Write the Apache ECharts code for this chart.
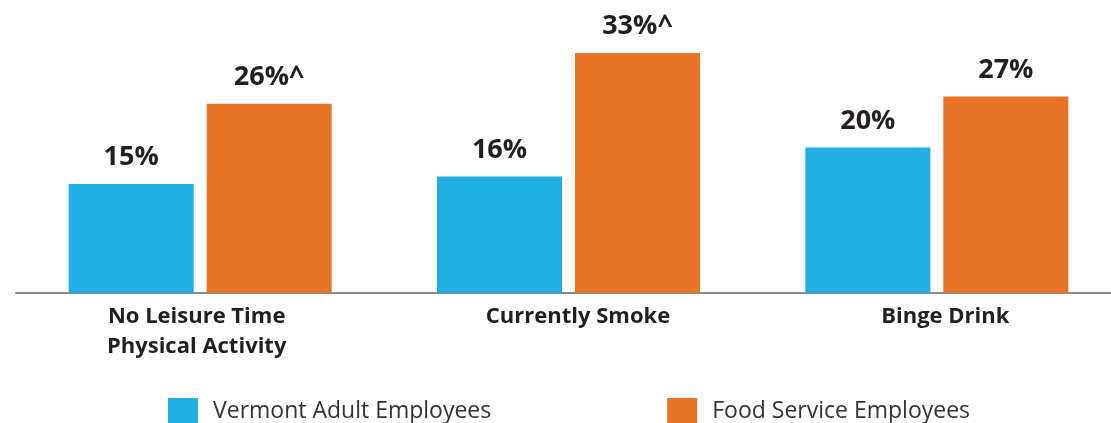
<!DOCTYPE html>
<html>
<head>
<meta charset="utf-8">
<script src="https://cdn.jsdelivr.net/npm/echarts@6/dist/echarts.min.js"></script>
<style>html,body{margin:0;padding:0;background:#fff;overflow:hidden}#c{width:1121px;height:423px}</style>
</head>
<body>
<div id="c"></div>
<script>
const categories = ['No Leisure Time\nPhysical Activity', 'Currently Smoke', 'Binge Drink'];
const seriesNames = ['Vermont Adult Employees', 'Food Service Employees'];
const vermontValues = [15, 16, 20];
const foodValues = [26, 33, 27];
const foodMarkers = ['^', '^', ''];

const labelPads = [[0, 7, 0, 0], [0, 0, 0, 19], [0, 0, 0, 17]];
const rich = {};
labelPads.forEach((p, i) => {
  rich['a' + i] = {fontFamily: 'Open Sans', fontWeight: 'bold', fontSize: 22, color: '#231f20', lineHeight: 30, padding: p};
});

const chart = echarts.init(document.getElementById('c'), null, {renderer: 'canvas'});
const labelStyle = {
  show: true, position: 'top', distance: 13,
  fontFamily: 'Open Sans', fontWeight: 'bold', fontSize: 27, color: '#231f20'
};
chart.setOption({
  animation: false,
  grid: {left: 16, top: 2, right: 0, height: 291, containLabel: false},
  legend: {
    left: 163, top: 393, itemWidth: 30, itemHeight: 26, itemGap: 176,
    icon: 'rect',
    textStyle: {fontFamily: 'Open Sans', fontSize: 23, color: '#333', padding: [0, 0, 0, 10]},
    data: seriesNames
  },
  xAxis: {
    type: 'category', data: categories,
    axisLine: {lineStyle: {color: '#8a8a8a', width: 2}},
    axisTick: {show: false},
    axisLabel: {
      interval: 0, margin: 9, rich: rich,
      formatter: (v, i) => v.split('\n').map(s => '{a' + i + '|' + s + '}').join('\n')
    }
  },
  yAxis: {type: 'value', min: 0, max: 40, show: false, splitLine: {show: false}},
  series: [
    {name: seriesNames[0], type: 'bar', data: vermontValues, barWidth: 125, barGap: '10.4%',
     itemStyle: {color: '#20aee3'},
     label: Object.assign({}, labelStyle, {formatter: p => p.value + '%'})},
    {name: seriesNames[1], type: 'bar', data: foodValues, barWidth: 125,
     itemStyle: {color: '#e87427'},
     label: Object.assign({}, labelStyle, {formatter: p => p.value + '%' + foodMarkers[p.dataIndex]})}
  ]
});
</script>
</body>
</html>
